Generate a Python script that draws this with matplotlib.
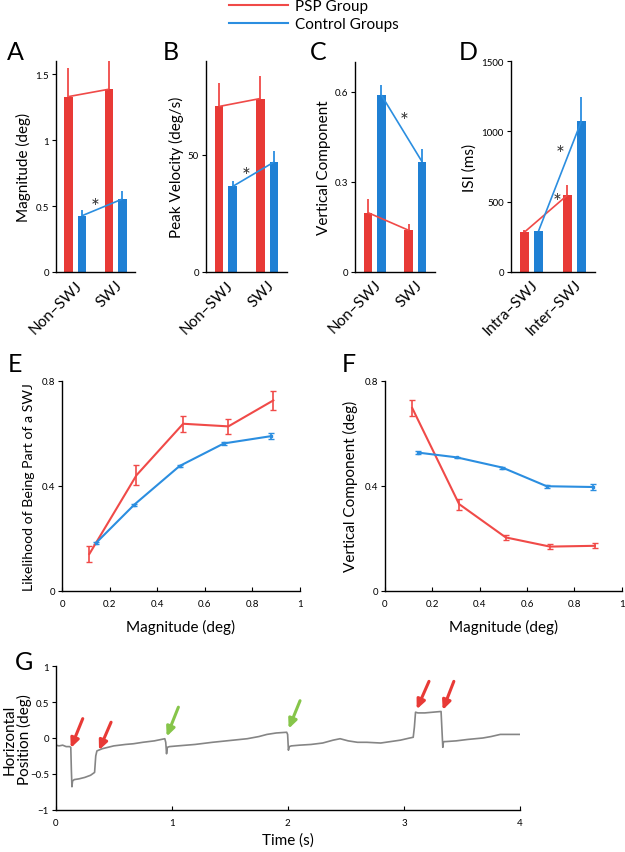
import matplotlib
matplotlib.use("Agg")
import matplotlib.pyplot as plt
import numpy as np

plt.rcParams['font.family'] = ['Lato', 'DejaVu Sans']

RED = '#e83a36'
BLUE = '#1f80d4'
RED_L = '#f04a48'
BLUE_L = '#2b8ee0'
GRAY = '#858585'
GREEN = '#86c54a'

# ---------------- data ----------------
cat_AC = ['Non–SWJ', 'SWJ']
cat_D = ['Intra–SWJ', 'Inter–SWJ']

A_psp = [1.33, 1.386]
A_psp_err = [0.22, 0.25]
A_ctl = [0.426, 0.553]
A_ctl_err = [0.046, 0.058]

B_psp = [70.6, 74.0]
B_psp_err = [10.0, 9.5]
B_ctl = [36.5, 46.9]
B_ctl_err = [2.5, 4.5]

C_psp = [0.197, 0.138]
C_psp_err = [0.044, 0.020]
C_ctl = [0.589, 0.366]
C_ctl_err = [0.032, 0.044]

D_psp = [281, 545]
D_psp_err = [16, 75]
D_ctl = [288, 1075]
D_ctl_err = [5, 173]

E_psp_x = [0.115, 0.313, 0.509, 0.699, 0.888]
E_psp_y = [0.14, 0.44, 0.636, 0.626, 0.725]
E_psp_e = [0.030, 0.037, 0.030, 0.030, 0.035]
E_ctl_x = [0.143, 0.304, 0.494, 0.680, 0.880]
E_ctl_y = [0.182, 0.328, 0.475, 0.561, 0.589]
E_ctl_e = [0.004, 0.004, 0.004, 0.006, 0.012]

F_psp_x = [0.115, 0.313, 0.510, 0.697, 0.887]
F_psp_y = [0.696, 0.330, 0.203, 0.168, 0.171]
F_psp_e = [0.030, 0.021, 0.010, 0.010, 0.010]
F_ctl_x = [0.141, 0.303, 0.496, 0.683, 0.880]
F_ctl_y = [0.526, 0.508, 0.469, 0.398, 0.395]
F_ctl_e = [0.005, 0.003, 0.004, 0.005, 0.012]

G_t = [0.0, 0.03, 0.06, 0.09, 0.12, 0.13, 0.135, 0.14, 0.145, 0.16, 0.20, 0.25, 0.30, 0.335,
       0.345, 0.355, 0.37, 0.40, 0.45, 0.50, 0.60, 0.67, 0.75, 0.85, 0.94,
       0.948, 0.955, 0.962, 0.98, 1.05, 1.20, 1.35, 1.53, 1.65, 1.75, 1.82, 1.90, 1.99,
       1.998, 2.005, 2.012, 2.03, 2.10, 2.20, 2.30, 2.39, 2.45, 2.52, 2.60, 2.68, 2.80,
       2.97, 3.05, 3.08, 3.09, 3.10, 3.12, 3.18, 3.25, 3.32, 3.325, 3.335, 3.34, 3.345,
       3.36, 3.45, 3.55, 3.68, 3.75, 3.83, 3.90, 4.0]
G_y = [-0.10, -0.11, -0.10, -0.12, -0.12, -0.13, -0.45, -0.68, -0.60, -0.58, -0.57, -0.55, -0.52, -0.48,
       -0.25, -0.18, -0.17, -0.15, -0.13, -0.11, -0.09, -0.08, -0.06, -0.04, -0.01,
       -0.06, -0.22, -0.13, -0.12, -0.11, -0.09, -0.06, -0.03, -0.01, 0.02, 0.05, 0.07, 0.08,
       0.05, -0.17, -0.12, -0.11, -0.10, -0.09, -0.07, -0.03, -0.01, -0.04, -0.06, -0.06, -0.07,
       -0.03, 0.00, 0.01, 0.15, 0.36, 0.35, 0.35, 0.36, 0.37, 0.20, -0.13, -0.06, -0.05,
       -0.05, -0.04, -0.02, 0.00, 0.02, 0.05, 0.05, 0.05]

G_arrow_tip_t = [0.130, 0.373, 0.956, 2.007, 3.110, 3.334]
G_arrow_tip_y = [-0.14, -0.17, 0.02, 0.13, 0.40, 0.39]
G_arrow_tail_t = [0.233, 0.477, 1.057, 2.105, 3.216, 3.430]
G_arrow_tail_y = [0.27, 0.22, 0.43, 0.52, 0.79, 0.79]
G_arrow_kind = ['SWJ', 'SWJ', 'non', 'non', 'SWJ', 'SWJ']

# ---------------- figure ----------------
fig = plt.figure(figsize=(6.25, 8.53), dpi=100)
W, H = 625, 853
FS = 11


def ax_px(x0, y0, x1, y1):
    return fig.add_axes([x0 / W, 1 - y1 / H, (x1 - x0) / W, (y1 - y0) / H])


def style(ax, tl=7):
    for s in ['top', 'right']:
        ax.spines[s].set_visible(False)
    ax.spines['left'].set_linewidth(1.0)
    ax.spines['bottom'].set_linewidth(1.0)
    ax.tick_params(axis='both', labelsize=tl, length=3, width=0.8, pad=2)


off = 0.165
bw = 0.21
gx = np.array([1.0, 2.0])


def bar_panel(ax, psp, psp_e, ctl, ctl_e, cats, ylim, yticks, yticklabels, ylabel, stars):
    xr = gx - off
    xb = gx + off
    ax.bar(xr, psp, width=bw, color=RED, zorder=2)
    ax.bar(xb, ctl, width=bw, color=BLUE, zorder=2)
    ax.vlines(xr, psp, np.array(psp) + np.array(psp_e), color=RED_L, lw=1.3, zorder=1)
    ax.vlines(xb, ctl, np.array(ctl) + np.array(ctl_e), color=BLUE_L, lw=1.3, zorder=1)
    ax.plot(xr, psp, color=RED_L, lw=1.2, zorder=3, solid_capstyle='butt')
    ax.plot(xb, ctl, color=BLUE_L, lw=1.2, zorder=3, solid_capstyle='butt')
    ax.set_xlim(0.52, 2.48)
    ax.set_ylim(*ylim)
    ax.set_yticks(yticks)
    ax.set_yticklabels(yticklabels)
    ax.set_xticks(gx)
    ax.set_xticklabels(cats, rotation=45, ha='right', rotation_mode='anchor', fontsize=FS)
    ax.set_ylabel(ylabel, fontsize=FS, labelpad=3)
    for (sx, sy) in stars:
        ax.text(sx, sy, '*', fontsize=15, ha='center', va='center', color='#333333')
    style(ax)
    ax.tick_params(axis='x', length=0, labelsize=FS, pad=4)


axA = ax_px(55.7, 62, 135, 273)
bar_panel(axA, A_psp, A_psp_err, A_ctl, A_ctl_err, cat_AC, (0, 1.6), [0, 0.5, 1, 1.5],
          ['0', '0.5', '1', '1.5'], 'Magnitude (deg)', [(1.49, 0.495)])
axB = ax_px(206, 62, 287, 273)
bar_panel(axB, B_psp, B_psp_err, B_ctl, B_ctl_err, cat_AC, (0, 90), [0, 50],
          ['0', '50'], 'Peak Velocity (deg/s)', [(1.49, 41.1)])
axC = ax_px(355, 62.7, 435, 272.7)
bar_panel(axC, C_psp, C_psp_err, C_ctl, C_ctl_err, cat_AC, (0, 0.7), [0, 0.3, 0.6],
          ['0', '0.3', '0.6'], 'Vertical Component', [(1.73, 0.503)])
axD = ax_px(510.7, 62.3, 595, 272.7)
bar_panel(axD, D_psp, D_psp_err, D_ctl, D_ctl_err, cat_D, (0, 1500), [0, 500, 1000, 1500],
          ['0', '500', '1000', '1500'], 'ISI (ms)', [(1.68, 839), (1.60, 495)])

# legend
fig.lines.append(plt.Line2D([229 / W, 288 / W], [1 - 6 / H, 1 - 6 / H], color=RED_L, lw=1.5, transform=fig.transFigure))
fig.lines.append(plt.Line2D([229 / W, 288 / W], [1 - 24 / H, 1 - 24 / H], color=BLUE_L, lw=1.5, transform=fig.transFigure))
fig.text(295 / W, 1 - 7 / H, 'PSP Group', fontsize=FS, va='center', ha='left')
fig.text(295 / W, 1 - 25 / H, 'Control Groups', fontsize=FS, va='center', ha='left')


def line_panel(ax, px, py, pe, cx, cy, ce, ylabel, yfs):
    ax.errorbar(px, py, yerr=pe, color=RED_L, lw=1.5, capsize=2.5, elinewidth=1.2, capthick=1.0)
    ax.errorbar(cx, cy, yerr=ce, color=BLUE_L, lw=1.5, capsize=2.5, elinewidth=1.2, capthick=1.0,
                marker='s', ms=1.5)
    ax.set_xlim(0, 1)
    ax.set_ylim(0, 0.8)
    ax.set_xticks([0, 0.2, 0.4, 0.6, 0.8, 1.0])
    ax.set_xticklabels(['0', '0.2', '0.4', '0.6', '0.8', '1'])
    ax.set_yticks([0, 0.4, 0.8])
    ax.set_yticklabels(['0', '0.4', '0.8'])
    ax.set_xlabel('Magnitude (deg)', fontsize=FS, labelpad=8)
    ax.set_ylabel(ylabel, fontsize=yfs, labelpad=5)
    style(ax)
    ax.tick_params(axis='x', direction='in', pad=6)


axE = ax_px(62, 381.7, 300, 591.7)
line_panel(axE, E_psp_x, E_psp_y, E_psp_e, E_ctl_x, E_ctl_y, E_ctl_e, 'Likelihood of Being Part of a SWJ', 10.2)
axF = ax_px(385, 381.7, 621.7, 591.7)
line_panel(axF, F_psp_x, F_psp_y, F_psp_e, F_ctl_x, F_ctl_y, F_ctl_e, 'Vertical Component (deg)', FS)

axG = ax_px(55.7, 667.3, 520, 810.7)
axG.plot(G_t, G_y, color=GRAY, lw=1.2)
for tt, ty, t0, y0, k in zip(G_arrow_tip_t, G_arrow_tip_y, G_arrow_tail_t, G_arrow_tail_y, G_arrow_kind):
    col = RED if k == 'SWJ' else GREEN
    axG.annotate('', xy=(tt, ty), xytext=(t0, y0),
                 arrowprops=dict(arrowstyle='-|>,head_length=0.55,head_width=0.25', color=col, lw=2.2,
                                 shrinkA=0, shrinkB=0))
axG.set_xlim(0, 4)
axG.set_ylim(-1, 1)
axG.set_xticks([0, 1, 2, 3, 4])
axG.set_yticks([-1, -0.5, 0, 0.5, 1])
axG.set_yticklabels(['−1', '−0.5', '0', '0.5', '1'])
axG.set_xlabel('Time (s)', fontsize=FS, labelpad=4)
style(axG)
axG.tick_params(axis='x', direction='in', pad=6)
fig.text(17 / W, 1 - 740 / H, 'Horizontal\nPosition (deg)', fontsize=FS, rotation=90,
         ha='center', va='center', linespacing=1.0, multialignment='center')

# panel letters
for letter, x, y in [('A', 7, 53), ('B', 163, 53), ('C', 310, 53), ('D', 459, 53),
                     ('E', 8, 365), ('F', 342, 365), ('G', 15, 663)]:
    fig.text(x / W, 1 - y / H, letter, fontsize=18, va='center', ha='left')

fig.savefig('out.png', dpi=100)
